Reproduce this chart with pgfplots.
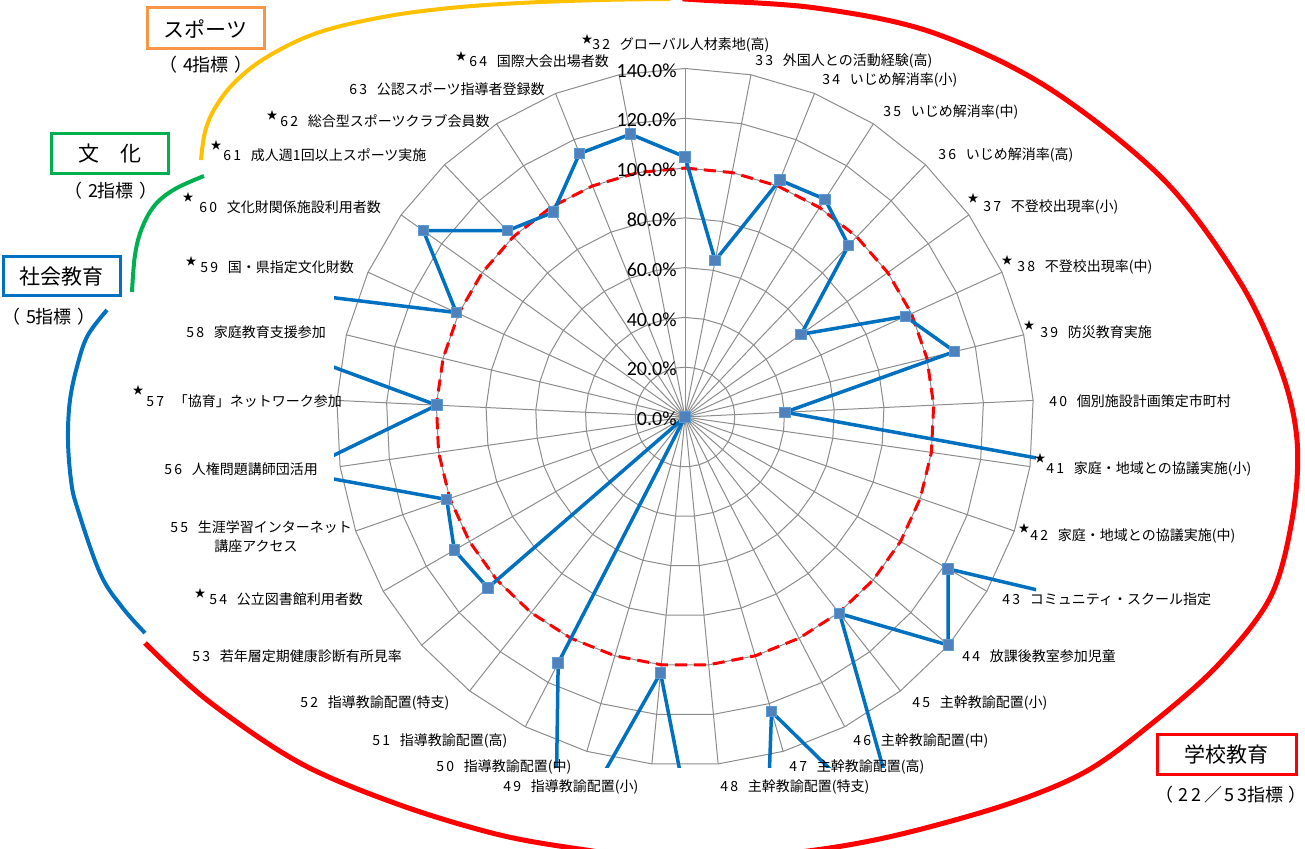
\documentclass[border=0pt]{standalone}
\usepackage{pgfplots}
\pgfplotsset{compat=1.18}
\usepackage{pgfplotstable}
\usepackage{fontspec}
\setmainfont{Noto Sans CJK JP}
\newfontfamily\tickfont{Carlito}
\newfontfamily\numfont[LetterSpace=16]{Noto Sans CJK JP}

\definecolor{lineblue}{HTML}{0070C0}
\definecolor{markfill}{HTML}{4F81BD}
\definecolor{markedge}{HTML}{5B9BD5}
\definecolor{gridgray}{HTML}{8C8C8C}
\definecolor{sportorange}{HTML}{F79646}
\definecolor{culturegreen}{HTML}{00B050}
\definecolor{arcyellow}{HTML}{FFC000}

% k: spoke (0 = item 32 at the top, clockwise), rate: achievement in %, goal: 100 %
\pgfplotstableread{
k  rate   goal
0  104.5  100
1  64.0   100
2  102.5  100
3  104.0  100
4  95.2   100
5  57.3   100
6  97.3   100
7  111.5  100
8  40.2   100
9  244    100
10 348    100
11 122.0  100
12 139.9  100
13 100.5  100
14 192    100
15 123.4  100
16 298    100
17 103.3  100
18 185    100
19 111.2  100
20 0      100
21 104.8  100
22 107.0  100
23 101.3  100
24 157    100
25 99.8   100
26 261    100
27 101.0  100
28 129.0  100
29 103.4  100
30 97.8   100
31 114.0  100
32 115.7  100
33 104.5  100
}\rates

\newcommand\lab{\fontsize{7pt}{8pt}\selectfont}
\newcommand\no[1]{{\numfont #1}\hspace{0.7em}}
\newcommand\lp{（\hspace{0.3em}}
\newcommand\rp{\hspace{0.3em}）}

\begin{document}
\begin{tikzpicture}
\path[use as bounding box] (0,0) rectangle (652.5pt,-424.5pt);
\begin{axis}[
  at={(342.5pt,-208.5pt)}, anchor=center,
  scale only axis, width=351pt, height=351pt,
  xmin=-141, xmax=141, ymin=-141, ymax=141,
  hide axis,
]
% web grid
\pgfplotsinvokeforeach{0,...,32}{
  \draw[gridgray, line width=0.5pt] (axis cs:0,0) -- (axis cs:{140*sin(#1*360/33)},{140*cos(#1*360/33)});
}
\pgfplotsinvokeforeach{20,40,...,140}{
  \addplot[gridgray, line width=0.5pt] table[x expr={#1*sin(\thisrow{k}*360/33)}, y expr={#1*cos(\thisrow{k}*360/33)}] {\rates};
}
% 100 % goal
\addplot[red, line width=1.5pt, dash pattern=on 6pt off 3.5pt]
  table[x expr={\thisrow{goal}*sin(\thisrow{k}*360/33)}, y expr={\thisrow{goal}*cos(\thisrow{k}*360/33)}] {\rates};
% achievement
\addplot[lineblue, line width=1.75pt, line join=round, mark=square*, mark size=2.6pt,
  mark options={fill=markfill, draw=markedge, line width=0.5pt}]
  table[x expr={\thisrow{rate}*sin(\thisrow{k}*360/33)}, y expr={\thisrow{rate}*cos(\thisrow{k}*360/33)}] {\rates};
\end{axis}

\begin{scope}[x=0.5pt, y=-0.5pt]
% rate labels on the top spoke
\foreach \r in {0,20,...,140}
  \node[anchor=east, inner sep=0pt, font=\tickfont\fontsize{10pt}{10pt}\selectfont] at (677,{419-2.49*\r}) {\r.0\%};

% category labels
\begin{scope}[every node/.style={anchor=west, inner sep=0pt, font=\lab}]
\node at (592,45) {\no{32}グローバル人材素地(高)};
\node at (755,61) {\no{33}外国人との活動経験(高)};
\node at (822,80) {\no{34}いじめ解消率(小)};
\node at (883,112) {\no{35}いじめ解消率(中)};
\node at (938,155) {\no{36}いじめ解消率(高)};
\node at (983,207) {\no{37}不登校出現率(小)};
\node at (1017,267) {\no{38}不登校出現率(中)};
\node at (1040,332) {\no{39}防災教育実施};
\node at (1049,401) {\no{40}個別施設計画策定市町村};
\node at (1046,469) {\no{41}家庭・地域との協議実施(小)};
\node at (1030,536) {\no{42}家庭・地域との協議実施(中)};
\node at (1002,599) {\no{43}コミュニティ・スクール指定};
\node at (962,656) {\no{44}放課後教室参加児童};
\node at (912,703) {\no{45}主幹教諭配置(小)};
\node at (853,741) {\no{46}主幹教諭配置(中)};
\node at (789,767) {\no{47}主幹教諭配置(高)};
\node at (720,787) {\no{48}主幹教諭配置(特支)};
\node at (503,787) {\no{49}指導教諭配置(小)};
\node at (436,767) {\no{50}指導教諭配置(中)};
\node at (372,741) {\no{51}指導教諭配置(高)};
\node at (300,703) {\no{52}指導教諭配置(特支)};
\node at (192,656) {\no{53}若年層定期健康診断有所見率};
\node at (209,599) {\no{54}公立図書館利用者数};
\node at (170,527) {\no{55}生涯学習インターネット};
\node[anchor=center] at (256,546) {講座アクセス};
\node at (164,469) {\no{56}人権問題講師団活用};
\node at (146,401) {\no{57}「協育」ネットワーク参加};
\node at (186,332) {\no{58}家庭教育支援参加};
\node at (200,267) {\no{59}国・県指定文化財数};
\node at (199,207) {\no{60}文化財関係施設利用者数};
\node at (223,155) {\no{61}成人週1回以上スポーツ実施};
\node at (280,121) {\no{62}総合型スポーツクラブ会員数};
\node at (349,89) {\no{63}公認スポーツ指導者登録数};
\node at (469,61) {\no{64}国際大会出場者数};
\end{scope}
% stars for the key indicators
\foreach \x/\y in {587/39, 973/198, 1007/260, 1029/325, 1040/458, 1024/528,
                   200/593, 138/390, 191/261, 188/197, 216/145, 272/115, 461/56}
  \node[inner sep=0pt, font=\fontsize{5.5pt}{6pt}\selectfont] at (\x,\y) {★};

% field arcs
\draw[arcyellow, line width=2pt] plot[smooth, tension=0.6] coordinates {
  (201,160) (205,132) (215,108) (235,82) (267,57) (317,33) (383,17) (450,8) (520,3) (600,0) (670,-1)};
\draw[culturegreen, line width=2pt] plot[smooth, tension=0.6] coordinates {
  (204,176) (175,189) (155,205) (142,228) (135,255) (132,292)};
\draw[lineblue, line width=2pt] plot[smooth, tension=0.6] coordinates {
  (107,310) (88,335) (78,363) (70,400) (68,440) (71,480) (77,507) (100,573) (122,607) (145,633)};
\draw[red, line width=2.5pt] plot[smooth, tension=0.55] coordinates {
  (683,-1) (700,0) (816,8) (931,32) (1047,87) (1163,179) (1240,282) (1281,370)
  (1297,440) (1293,514) (1271,596) (1218,665) (1150,725) (1085,772) (1005,805)
  (893,836) (800,852) (680,862) (586,850) (500,835) (400,805) (300,763) (207,700) (145,643)};

% field boxes
\draw[sportorange, line width=1.5pt, fill=white] (147,8) rectangle (264,49);
\node[font=\fontsize{10.5pt}{11pt}\selectfont] at (205.5,29) {スポーツ};
\node[font=\fontsize{9pt}{10pt}\selectfont] at (206,65) {\lp{\numfont 4}指標\rp};
\draw[culturegreen, line width=1.5pt, fill=white] (51,134) rectangle (168,174);
\node[font=\fontsize{10.5pt}{11pt}\selectfont] at (109.5,154) {文　化};
\node[font=\fontsize{9pt}{10pt}\selectfont] at (111,191) {\lp{\numfont 2}指標\rp};
\draw[lineblue, line width=1.5pt, fill=white] (3,257) rectangle (120,296);
\node[font=\fontsize{10.5pt}{11pt}\selectfont] at (61.5,277) {社会教育};
\node[font=\fontsize{9pt}{10pt}\selectfont] at (49,317) {\lp{\numfont 5}指標\rp};
\draw[red, line width=1.5pt, fill=white] (1157,734) rectangle (1296,774);
\node[font=\fontsize{10.5pt}{11pt}\selectfont] at (1226.5,754) {学校教育};
\node[font=\fontsize{9pt}{10pt}\selectfont] at (1231,795) {\lp{\numfont 22}\hspace{0.15em}／\hspace{0.15em}{\numfont 53}指標\rp};
\end{scope}
\end{tikzpicture}
\end{document}
